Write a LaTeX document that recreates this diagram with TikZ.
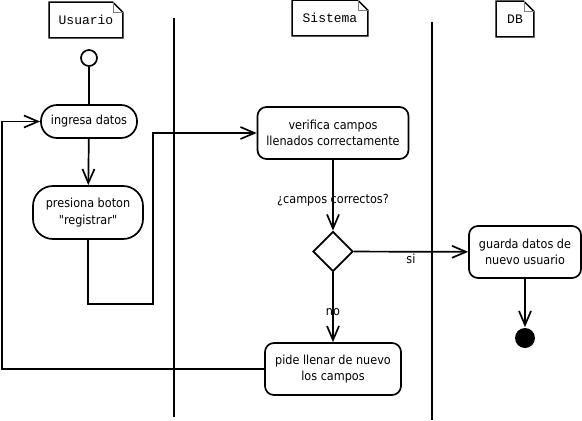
\documentclass[tikz,border=0pt]{standalone}
\usepackage{fontspec}
\newfontfamily\actfont{DejaVu Sans}[FakeStretch=0.9]
\setmonofont{Liberation Mono}
\usetikzlibrary{shapes.geometric,positioning,arrows.meta}

\begin{document}
\begin{tikzpicture}[x=1pt,y=-1pt,line width=1.7pt,
        act/.style={draw,rounded corners=9pt,align=center,inner sep=0pt,font=\actfont\fontsize{12.5}{16.5}\selectfont},
        lbl/.style={inner sep=0pt,font=\actfont\fontsize{12.5}{14}\selectfont},
        lanenote/.style={minimum height=34pt,inner sep=0pt,font=\fontsize{13}{15}\selectfont\ttfamily},
        flow/.style={-{Straight Barb[length=14pt,width=12pt]}}]
        \useasboundingbox (0,0) rectangle (582,421);

        % Lanes
        \node[lanenote, minimum width=72pt] (usr) at (86,20) {Usuario};
        \node[lanenote, minimum width=74pt] (sis) at (330,18) {Sistema};
        \node[lanenote, minimum width=36pt] (db) at (515,19) {DB};
        \foreach \n in {usr,sis,db} {
        \draw[line width=1.4pt] (\n.south west) -- (\n.north west) -- ([xshift=-10pt]\n.north east) -- ([yshift=-10pt]\n.north east) -- (\n.south east) -- cycle;
        \draw[gray, line width=0.6pt] ([xshift=-10pt]\n.north east) |- ([yshift=-10pt]\n.north east);
        }
        \draw (174,18) -- (174,417);
        \draw (432,22) -- (432,420);

        % Usuario
        \node[circle, draw, minimum size=16pt, inner sep=0pt] (ini) at (89,58) {};
        \node[act, rounded corners=16pt, minimum width=96pt, minimum height=33pt] (ing) at (89,121.5) {ingresa datos};
        \node[act, rounded corners=20pt, minimum width=110pt, minimum height=53pt] (pre) at (88,212.5) {presiona boton\\"registrar"};

        % Sistema
        \node[act, minimum width=151pt, minimum height=52pt] (ver) at (333,133) {verifica campos\\llenados correctamente};
        \node[diamond, draw, minimum width=40pt, minimum height=40pt, inner sep=0pt] (dec) at (333,251.5) {};
        \node[act, minimum width=136pt, minimum height=52pt] (pid) at (333,369) {pide llenar de nuevo\\los campos};

        % DB
        \node[act, minimum width=112pt, minimum height=52pt] (gua) at (525,252) {guarda datos de\\nuevo usuario};
        \node[circle, fill, minimum size=20pt, inner sep=0pt] (fin) at (525,338) {};

        % Arrows
        \coordinate (c1) at (153,304);
        \coordinate (c2) at (2,250);
        \draw (ini) -- (ing);
        \draw[flow] (ing) -- (pre);
        \draw[flow] (pre.south) |- (c1) |- (ver.west);
        \draw[flow] (ver) -- (dec) node[lbl, pos=0.57] (q) {¿campos correctos?};
        \draw[flow] (dec) -- (gua) node[lbl, pos=0.5, yshift=-7pt] (si) {si};
        \draw[flow] (dec) -- (pid) node[lbl, pos=0.57] (no) {no};
        \draw[flow] (gua) -- (fin);
        \draw[flow] (pid.west) -| (c2) |- (ing.west);

\end{tikzpicture}
\end{document}
